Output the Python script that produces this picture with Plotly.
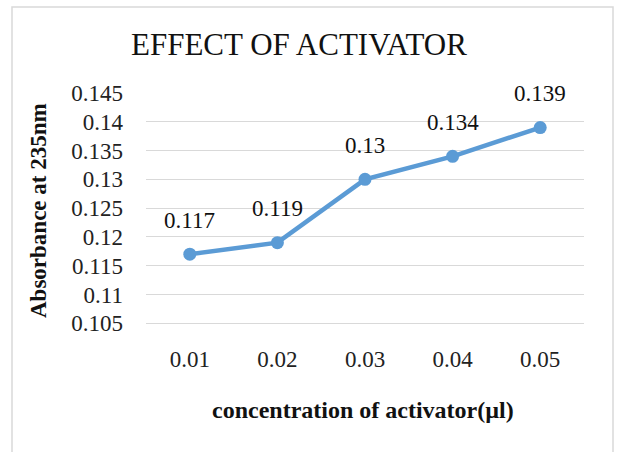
import plotly.graph_objects as go

# Absorbance readings for each activator concentration
concentrations = ["0.01", "0.02", "0.03", "0.04", "0.05"]
absorbance = [0.117, 0.119, 0.13, 0.134, 0.139]
y_ticks = [0.105, 0.11, 0.115, 0.12, 0.125, 0.13, 0.135, 0.14, 0.145]
y_tick_labels = ["0.105", "0.11", "0.115", "0.12", "0.125", "0.13", "0.135", "0.14", "0.145"]

W, H = 617, 452
L, R, T, B = 146, 33, 93, 100
serif = "Liberation Serif"
blue = "#5B9BD5"

fig = go.Figure()
fig.add_trace(go.Scatter(
    x=list(range(len(concentrations))), y=absorbance,
    mode="lines+markers",
    line=dict(color=blue, width=4.5),
    marker=dict(color=blue, size=13),
    hoverinfo="skip",
))

# value labels above each point
annotations = [
    dict(x=i, y=v, xref="x", yref="y", text=f"{v:g}", showarrow=False,
         yshift=34, font=dict(family=serif, size=23, color="#111"))
    for i, v in enumerate(absorbance)
]

# convert pixel positions to paper coordinates
def px(xp):
    return (xp - L) / (W - L - R)

def py(yp):
    return 1 - (yp - T) / (H - T - B)

centered = dict(xref="paper", yref="paper", showarrow=False, xanchor="center", yanchor="middle")
annotations += [
    dict(text="EFFECT OF ACTIVATOR", x=px(299), y=py(45),
         font=dict(family=serif, size=31, color="#111"), **centered),
    dict(text="<b>Absorbance at 235nm</b>", x=px(38), y=py(211), textangle=-90,
         font=dict(family=serif, size=23, color="#111"), **centered),
    dict(text="<b>concentration of activator(µl)</b>", x=px(363), y=py(410),
         font=dict(family=serif, size=24, color="#111"), **centered),
]

fig.update_layout(
    width=W, height=H,
    margin=dict(l=L, r=R, t=T, b=B),
    paper_bgcolor="white", plot_bgcolor="white",
    showlegend=False,
    annotations=annotations,
    shapes=[dict(type="rect", xref="paper", yref="paper",
                 x0=px(12), x1=px(613), y0=py(470), y1=py(7),
                 line=dict(color="#d9d9d9", width=1.5), fillcolor="rgba(0,0,0,0)", layer="below")],
    xaxis=dict(range=[-0.5, 4.5], tickvals=list(range(len(concentrations))), ticktext=concentrations,
               showgrid=False, zeroline=False, showline=False, ticklabelstandoff=-9,
               ticks="", tickfont=dict(family=serif, size=23, color="#222")),
    yaxis=dict(range=[0.1, 0.145], tickvals=y_ticks, ticktext=y_tick_labels,
               showgrid=True, gridcolor="#d9d9d9", gridwidth=1,
               zeroline=False, showline=False, ticks="", ticklabelstandoff=22,
               tickfont=dict(family=serif, size=23, color="#222")),
)

fig.write_html("out.html")
